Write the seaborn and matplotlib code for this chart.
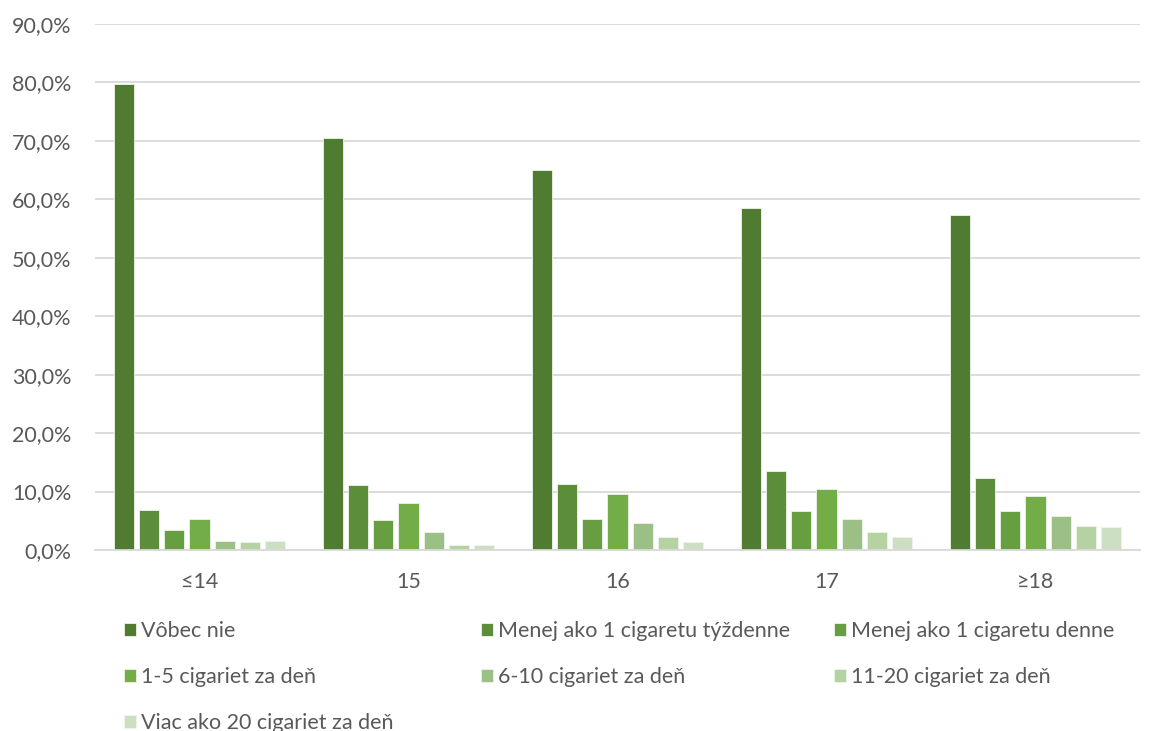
import matplotlib
matplotlib.use("Agg")
import matplotlib.pyplot as plt
import seaborn as sns
import pandas as pd
from matplotlib.ticker import FuncFormatter, MultipleLocator

categories = ["≤14", "15", "16", "17", "≥18"]
series = ["Vôbec nie", "Menej ako 1 cigaretu týždenne", "Menej ako 1 cigaretu denne",
          "1-5 cigariet za deň", "6-10 cigariet za deň", "11-20 cigariet za deň",
          "Viac ako 20 cigariet za deň"]
vobec_nie = [79.7, 70.5, 65.0, 58.5, 57.4]
menej_tyzdenne = [6.9, 11.1, 11.3, 13.5, 12.3]
menej_denne = [3.4, 5.1, 5.3, 6.6, 6.7]
c1_5 = [5.3, 8.0, 9.6, 10.5, 9.2]
c6_10 = [1.5, 3.1, 4.6, 5.3, 5.9]
c11_20 = [1.4, 0.9, 2.2, 3.0, 4.1]
viac_20 = [1.5, 0.9, 1.4, 2.2, 3.9]
colors = ["#507C31", "#5B8D3A", "#679E41", "#72AD48", "#9BC085", "#B5D2A3", "#CCDFC2"]

values = [vobec_nie, menej_tyzdenne, menej_denne, c1_5, c6_10, c11_20, viac_20]
rows = []
for s, vals in zip(series, values):
    for c, v in zip(categories, vals):
        rows.append({"age": c, "series": s, "value": v})
df = pd.DataFrame(rows)

sns.set_theme(style="white")
plt.rcParams["font.family"] = ["Lato", "DejaVu Sans"]

fig = plt.figure(figsize=(11.55, 7.31), dpi=100)
ax = fig.add_axes([95/1155, 1-550/731, (1140-95)/1155, (550-24)/731])

sns.barplot(data=df, x="age", y="value", hue="series", order=categories,
            hue_order=series, palette=colors, saturation=1, width=0.844, gap=0.2,
            edgecolor="#EEF4EA", linewidth=0.6, ax=ax, legend=True)

ax.set_ylim(0, 90)
ax.set_xlim(-0.5, 4.5)
ax.yaxis.set_major_locator(MultipleLocator(10))
ax.yaxis.set_major_formatter(FuncFormatter(lambda v, p: f"{v:.1f}%".replace(".", ",")))
ax.grid(axis="y", color="#D9D9D9", linewidth=1.3)
ax.set_axisbelow(True)
for sp in ["left", "right", "top"]:
    ax.spines[sp].set_visible(False)
ax.spines["bottom"].set_color("#D9D9D9")
ax.spines["bottom"].set_linewidth(1.3)
ax.set_xlabel("")
ax.set_ylabel("")
ax.tick_params(axis="both", length=0, labelsize=15.5, colors="#595959")
ax.tick_params(axis="x", pad=16)
ax.tick_params(axis="y", pad=17)

handles, labels = ax.get_legend_handles_labels()
ax.get_legend().remove()

col_x = [124/1155, 481/1155, 834/1155]
groups = [[0, 3, 6], [1, 4], [2, 5]]
for x, idx in zip(col_x, groups):
    fig.legend([handles[i] for i in idx], [labels[i] for i in idx],
               loc="upper left", bbox_to_anchor=(x, 1-621/731), ncol=1,
               frameon=False, fontsize=15.5, labelcolor="#595959",
               handlelength=0.56, handleheight=0.56, handletextpad=0.25,
               labelspacing=1.2, borderpad=0, borderaxespad=0)

fig.savefig("out.png", dpi=100)
